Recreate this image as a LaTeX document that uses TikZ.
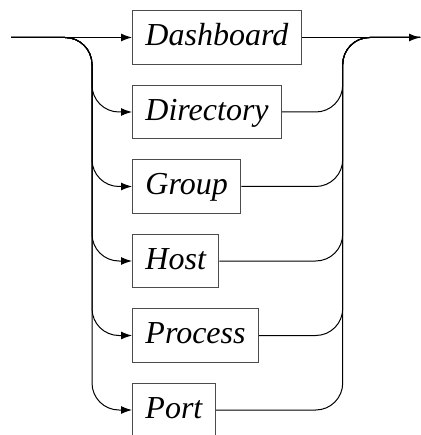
\documentclass[tikz,border=0pt]{standalone}
\usepackage{fontspec}
\newfontfamily\railfont{Liberation Serif}
\usetikzlibrary{arrows.meta}
\tikzset{
	choice/.style={draw=black!70, line width=0.9pt, anchor=west, inner sep=13pt,
		text height=22pt, text depth=5.2pt, font=\railfont\itshape\fontsize{32}{38}\selectfont},
	rail/.style={line width=1pt, rounded corners=27pt},
	>={Latex[length=11pt,width=8pt]}
}
\begin{document}
\begin{tikzpicture}[x=1pt,y=-1pt]
	\newcommand{\ROWSEP}{74.5}
	\useasboundingbox (0,0) rectangle (420,435);
	\node[choice](A) at (132,{37.5+0*\ROWSEP}){Dashboard};
	\node[choice](B) at (132,{37.5+1*\ROWSEP}){Directory};
	\node[choice](C) at (132,{37.5+2*\ROWSEP}){Group};
	\node[choice](D) at (132,{37.5+3*\ROWSEP}){Host};
	\node[choice](E) at (132,{37.5+4*\ROWSEP}){Process};
	\node[choice](F) at (132,{37.5+5*\ROWSEP}){Port};
	\coordinate(in) at (11,37.5);
	\coordinate(out) at (420,37.5);
	\coordinate(L) at (92,37.5);
	\coordinate(R) at (342.7,37.5);
	\draw[rail,->] (in) -- (A.west);
	\draw[rail,->] (A.east) -- (out);
	\draw[rail,->] (in) -- (L) |- (B.west);
	\draw[rail,->] (in) -- (L) |- (C.west);
	\draw[rail,->] (in) -- (L) |- (D.west);
	\draw[rail,->] (in) -- (L) |- (E.west);
	\draw[rail,->] (in) -- (L) |- (F.west);
	\draw[rail] (B.east) -| (R) -- (out);
	\draw[rail] (C.east) -| (R) -- (out);
	\draw[rail] (D.east) -| (R) -- (out);
	\draw[rail] (E.east) -| (R) -- (out);
	\draw[rail] (F.east) -| (R) -- (out);
\end{tikzpicture}
\end{document}
